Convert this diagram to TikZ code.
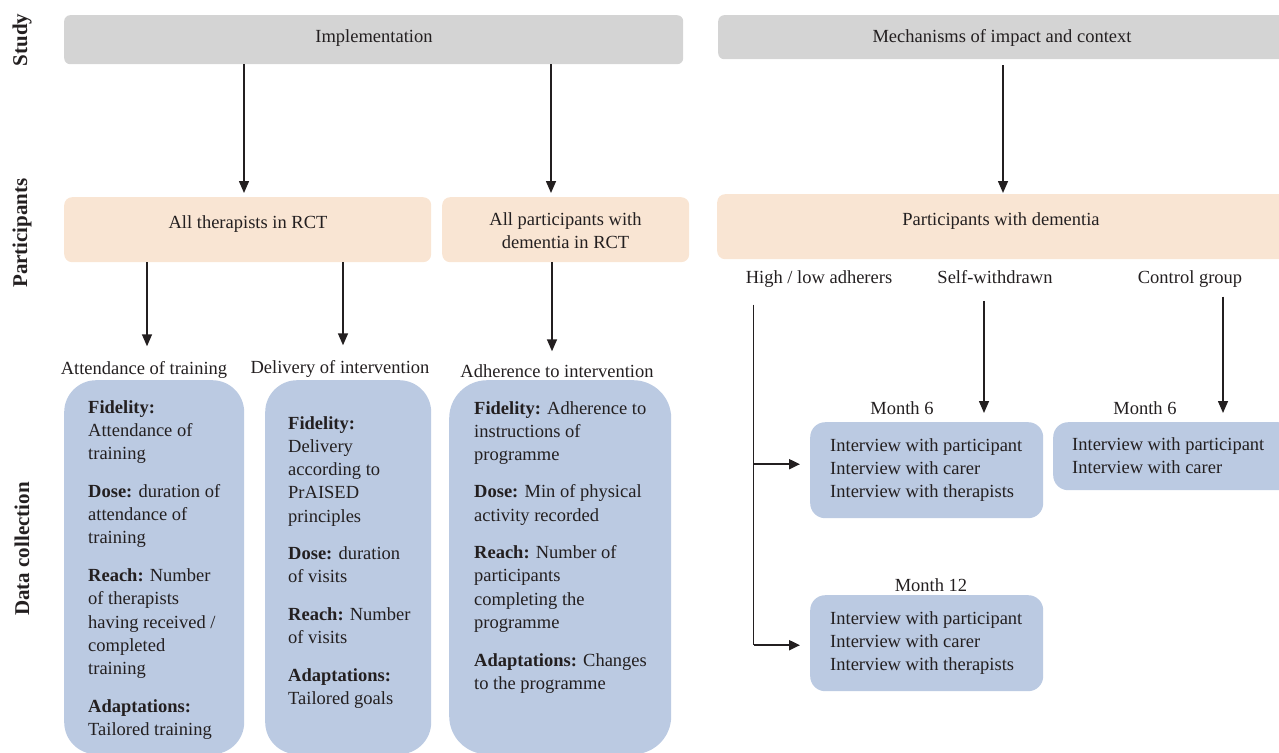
\documentclass[tikz,border=0pt]{standalone}
\usepackage{fontspec}
\setmainfont{Liberation Serif}
\usetikzlibrary{arrows.meta,calc}
\definecolor{boxgray}{RGB}{212,212,212}
\definecolor{boxpeach}{RGB}{249,229,211}
\definecolor{boxblue}{RGB}{187,202,226}
\definecolor{inkc}{RGB}{35,31,32}
\begin{document}
\begin{tikzpicture}[x=1pt,y=-1pt,
  txt/.style={font=\fontsize{18.5}{23.3}\selectfont, inner sep=0pt, text=inkc},
  side/.style={font=\fontsize{21}{24}\selectfont\bfseries, inner sep=0pt, rotate=90, text=inkc},
  graybox/.style={fill=boxgray, draw=none, rounded corners=6pt, anchor=north west, inner sep=0pt},
  peachbox/.style={fill=boxpeach, draw=none, rounded corners=8pt, anchor=north west, inner sep=0pt},
  bluebig/.style={fill=boxblue, draw=none, rounded corners=32pt, anchor=north west, inner sep=0pt},
  bluesmall/.style={fill=boxblue, draw=none, rounded corners=15pt, anchor=north west, inner sep=0pt},
  arr/.style={-{Triangle[length=12pt,width=10pt]}, line width=1.5pt, draw=inkc},
  thinline/.style={line width=1pt, draw=inkc},
  sidearr/.style={-{Triangle[length=11pt,width=10pt]}, line width=2pt, draw=inkc}
]
\useasboundingbox (0,0) rectangle (1279,752);
\clip (0,0) rectangle (1279,752);

% side labels
\node[side] (lstudy) at (22,40) {Study};
\node[side] (lpart) at (22,233) {Participants};
\node[side] (ldata) at (22,549) {Data collection};

% study row
\node[graybox, minimum width=619pt, minimum height=49pt] (impl) at (64,15) {};
\node[txt] (implt) at (374,38) {Implementation};
\node[graybox, minimum width=570pt, minimum height=44pt] (mech) at (718,15) {};
\node[txt] (mecht) at (1002,38) {Mechanisms of impact and context};

% participants row
\node[peachbox, minimum width=367pt, minimum height=65pt] (ther) at (64,197) {};
\node[txt] (thert) at (248,224) {All therapists in RCT};
\node[peachbox, minimum width=247pt, minimum height=65pt] (allp) at (442,197) {};
\node[txt, align=center] (allpt) at (565.5,230.5) {All participants with\\dementia in RCT};
\node[peachbox, minimum width=570pt, minimum height=65pt] (pwd) at (717,194) {};
\node[txt] (pwdt) at (1001,221) {Participants with dementia};

% arrows study -> participants
\draw[arr, shorten >=4pt] (244,0 |- impl.south) -- (244,0 |- ther.north);
\draw[arr, shorten >=4pt] (551,0 |- impl.south) -- (551,0 |- allp.north);
\draw[arr, shorten <=6pt, shorten >=1pt] (1003,0 |- mech.south) -- (1003,0 |- pwd.north);

% data collection headings
\node[txt] (attl) at (144,370) {Attendance of training};
\node[txt] (dell) at (340,369) {Delivery of intervention};
\node[txt] (adhl) at (557,371) {Adherence to intervention};

\draw[arr, shorten >=15pt] (147,0 |- ther.south) -- (147,0 |- attl.north);
\draw[arr, shorten >=15pt] (343,0 |- ther.south) -- (343,0 |- dell.north);
\draw[arr, shorten >=13pt] (552,0 |- allp.south) -- (552,0 |- adhl.north);

% big blue boxes
\node[bluebig, minimum width=180pt, minimum height=374pt] (b1) at (64,380) {};
\node[bluebig, minimum width=166pt, minimum height=374pt] (b2) at (265,380) {};
\node[bluebig, rounded corners=38pt, minimum width=222pt, minimum height=374pt] (b3) at (449,380) {};

\node[txt, align=left, anchor=north west] (b1t) at (88,400) {%
\textbf{Fidelity:}\\Attendance of\\training\\[14.3pt]
\textbf{Dose:} duration of\\attendance of\\training\\[14.3pt]
\textbf{Reach:} Number\\of therapists\\having received /\\completed\\training\\[14.3pt]
\textbf{Adaptations:}\\Tailored training};

\node[txt, align=left, anchor=north west] (b2t) at (288,416) {%
\textbf{Fidelity:}\\Delivery\\according to\\PrAISED\\principles\\[14pt]
\textbf{Dose:} duration\\of visits\\[14pt]
\textbf{Reach:} Number\\of visits\\[14.5pt]
\textbf{Adaptations:}\\Tailored goals};

\node[txt, align=left, anchor=north west] (b3t) at (474,401) {%
\textbf{Fidelity:} Adherence to\\instructions of\\programme\\[14pt]
\textbf{Dose:} Min of physical\\activity recorded\\[14pt]
\textbf{Reach:} Number of\\participants\\completing the\\programme\\[14.5pt]
\textbf{Adaptations:} Changes\\to the programme};

% right side groups
\node[txt] (hla) at (819,279) {High / low adherers};
\node[txt, anchor=base] (sw) at (995,0 |- hla.base) {Self-withdrawn};
\node[txt, anchor=base] (cg) at (1190,0 |- hla.base) {Control group};

\node[txt] (m6l) at (902,408) {Month 6};
\node[txt] (m6bl) at (1145,408) {Month 6};
\node[txt] (m12l) at (931,585) {Month 12};

\node[bluesmall, minimum width=233pt, minimum height=96pt] (m6a) at (810,422) {};
\node[bluesmall, minimum width=240pt, minimum height=68pt] (m6b) at (1053,422) {};
\node[bluesmall, minimum width=233pt, minimum height=96pt] (m12) at (810,595) {};

\node[txt, align=left, anchor=north west] (m6at) at (830,438) {Interview with participant\\Interview with carer\\Interview with therapists};
\node[txt, align=left, anchor=north west] (m6bt) at (1072,437) {Interview with participant\\Interview with carer};
\node[txt, align=left, anchor=north west] (m12t) at (830,611) {Interview with participant\\Interview with carer\\Interview with therapists};

\coordinate (hlstart) at ($(hla.south west)+(8,17)$);
\draw[thinline] (hlstart) -- ($(hlstart |- m12.west)+(0,2)$);
\draw[sidearr, shorten >=10pt] ($(hlstart |- m6a.west)+(0,-6)$) -- ($(m6a.west)+(0,-6)$);
\draw[sidearr, shorten >=10pt] ($(hlstart |- m12.west)+(0,2)$) -- ($(m12.west)+(0,2)$);

\draw[arr, shorten <=17pt, shorten >=9pt] (984,0 |- sw.south) -- (984,0 |- m6a.north);
\draw[arr, shorten <=9pt, shorten >=9pt] (1223,0 |- cg.south) -- (1223,0 |- m6b.north);
\end{tikzpicture}
\end{document}
